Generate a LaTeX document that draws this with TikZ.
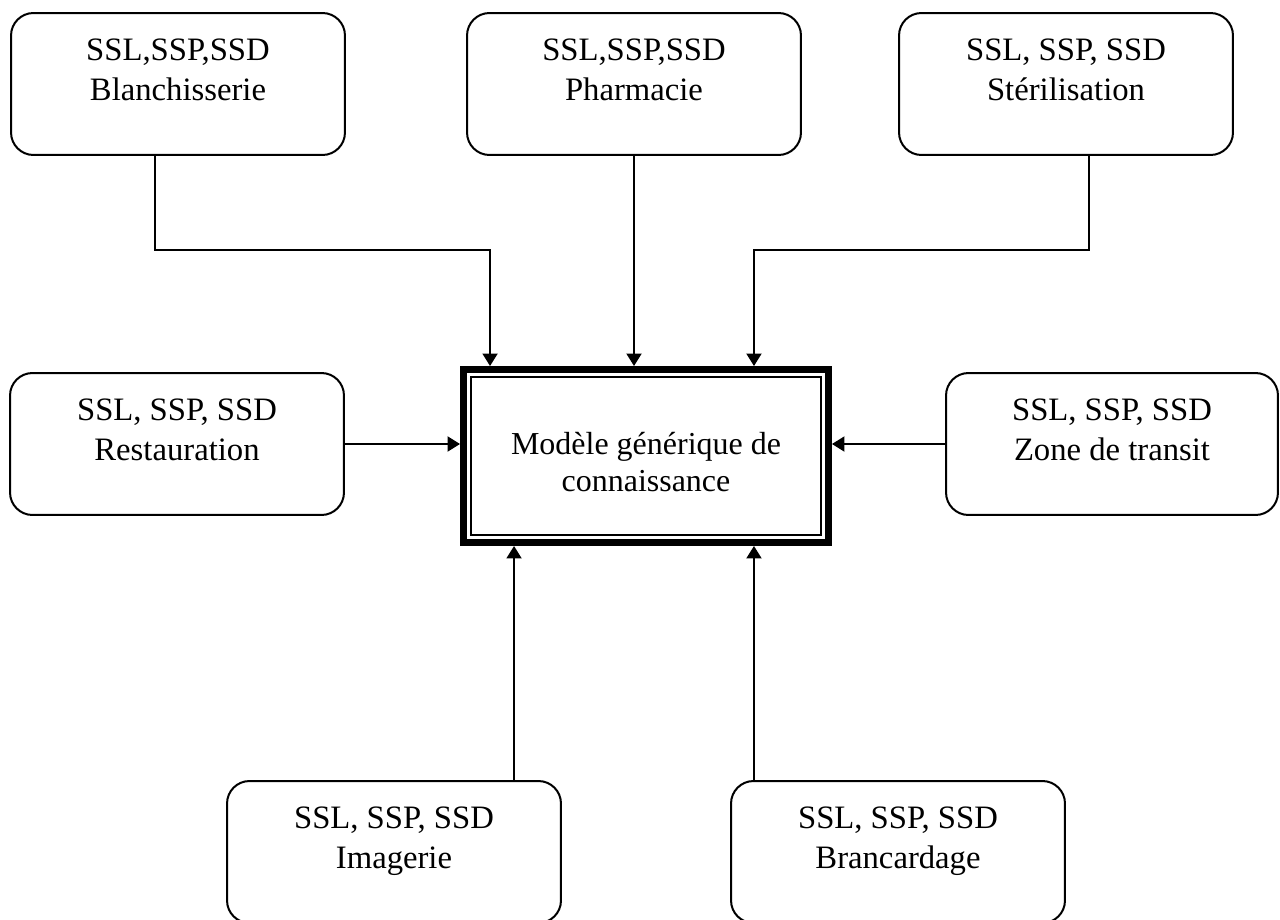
\documentclass[tikz,border=0pt]{standalone}
\usepackage{fontspec}
\setmainfont{Liberation Serif}
\usetikzlibrary{arrows.meta}

\begin{document}
\begin{tikzpicture}[
          x=0.02cm, y=-0.02cm,
          box/.style={
            draw, rounded corners=0.45cm, line width=0.04cm,
            minimum width=6.68cm, minimum height=2.84cm,
            font=\fontsize{18.6}{22.6}\selectfont, align=center, inner sep=0pt
          },
          model/.style={
            draw, line width=0.14cm, minimum width=7.3cm, minimum height=3.46cm,
            font=\fontsize{18.2}{21.4}\selectfont, align=center
          },
          conn/.style={line width=0.04cm, -{Triangle[length=0.25cm, width=0.3cm]}},
        ]
          \def\lift{\rule{0pt}{0.65cm}}
          \useasboundingbox (0,0) rectangle (1280,919);
          \clip (0,0) rectangle (1280,919);

          % --- central model ---
          \node[model] (model) at (646,456) {\rule{0pt}{0.68cm}Mod\`ele g\'en\'erique de\\connaissance};
          \draw[line width=0.03cm] ([shift={(11,11)}]model.north west)
            rectangle ([shift={(-11,-11)}]model.south east);

          % --- services ---
          \node[box] (blan) at (178,84) {\lift SSL,SSP,SSD\\Blanchisserie\\~};
          \node[box] (phar) at (634,84) {\lift SSL,SSP,SSD\\Pharmacie\\~};
          \node[box] (ster) at (1066,84) {\lift SSL, SSP, SSD\\St\'erilisation\\~};
          \node[box] (rest) at (177,444) {\lift SSL, SSP, SSD\\Restauration\\~};
          \node[box, minimum width=6.64cm] (zone) at (1112,444) {\lift SSL, SSP, SSD\\Zone de transit\\~};
          \node[box] (imag) at (394,852) {\lift SSL, SSP, SSD\\Imagerie\\~};
          \node[box] (bran) at (898,852) {\lift SSL, SSP, SSD\\Brancardage\\~};

          % entry points on the model
          \coordinate (blanin) at ([xshift=0.6cm]model.north west);
          \coordinate (sterin) at ([xshift=-1.56cm]model.north east);
          \coordinate (imagin) at ([xshift=1.08cm]model.south west);
          \coordinate (branin) at ([xshift=-1.56cm]model.south east);

          % --- connectors ---
          \draw[conn] ([xshift=-0.46cm]blan.south) -- ++(0,94) -| (blanin);
          \draw[conn] (phar.south) -- (phar.south |- model.north);
          \draw[conn] ([xshift=0.46cm]ster.south) -- ++(0,94) -| (sterin);
          \draw[conn] (rest.east) -- (rest.east -| model.west);
          \draw[conn] (zone.west) -- (zone.west -| model.east);
          \draw[conn] (imag.north -| imagin) -- (imagin);
          \draw[conn] (bran.north -| branin) -- (branin);
        \end{tikzpicture}
\end{document}
